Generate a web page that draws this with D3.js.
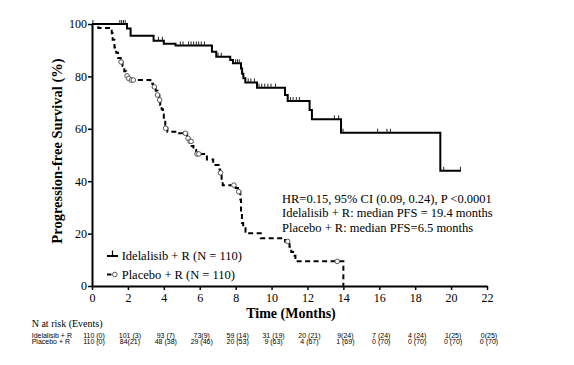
<!DOCTYPE html>
<html><head><meta charset="utf-8">
<script src="https://cdn.jsdelivr.net/npm/d3@7"></script>
<style>body{margin:0;background:#fff;} svg{display:block;}</style>
</head><body>
<svg id="c" width="574" height="365"></svg>
<script>
// ---- data ----
const xTicks = [0,2,4,6,8,10,12,14,16,18,20,22];
const yTicks = [0,20,40,60,80,100];

// Idelalisib + R : step times (months) and survival (%)
const idelTimes = [0, 1.95, 2.15, 3.43, 4.0, 4.65, 6.68, 6.92, 7.7, 7.85, 8.3, 8.36, 8.43, 8.54, 9.19, 10.75, 10.9, 12.12, 12.25, 13.87, 19.4];
const idelSurv  = [100, 98.3, 95.5, 93.6, 92.5, 91.8, 89.4, 87.5, 86.3, 85.0, 83.0, 81.0, 79.3, 77.7, 75.7, 72.9, 70.6, 67.2, 63.6, 58.5, 44.0];
const idelEnd = 20.55;
const idelCensor = [0.05, 1.55, 1.65, 1.75, 1.85, 3.7, 3.92, 4.92, 5.07, 5.38, 5.52, 5.66, 5.81, 5.94, 6.09, 6.26, 7.02, 7.2, 8.0, 8.1, 8.2, 8.7, 8.85, 9.05, 9.3, 9.45, 9.62, 9.8, 9.97, 10.22, 11.05, 11.2, 11.38, 11.55, 13.5, 13.74, 13.98, 15.91, 16.43, 16.62, 19.59, 20.52];

// Placebo + R
const placTimes = [0, 0.35, 1.1, 1.15, 1.25, 1.35, 1.45, 1.6, 1.7, 1.8, 1.9, 2.0, 2.1, 3.25, 3.4, 3.55, 3.65, 3.75, 3.8, 3.88, 3.95, 4.0, 4.08, 4.2, 4.8, 5.3, 5.45, 5.55, 5.65, 5.8, 6.4, 6.75, 7.05, 7.14, 7.22, 7.28, 8.0, 8.13, 8.26, 8.3, 8.35, 8.42, 8.55, 8.65, 9.4, 10.75, 11.0, 11.1, 11.2, 11.33, 14.0];
const placSurv  = [100, 98.5, 96.5, 94, 91, 89, 87, 85.5, 84, 82, 80.2, 79.2, 78.6, 77.2, 76.0, 74.5, 72.9, 71.0, 69.1, 67.5, 65.5, 62.7, 60.2, 58.9, 58.3, 56.4, 55.2, 53.4, 51.9, 50.4, 48.3, 46.2, 44.5, 43.2, 40.5, 38.5, 37.4, 36.0, 33, 28, 24, 22, 20.7, 20.1, 18.2, 17.0, 15.0, 13.0, 11.5, 9.4, 0];
const placCensor = [1.62, 1.95, 2.05, 2.2, 2.3, 3.47, 3.65, 3.77, 4.1, 5.2, 5.35, 5.47, 5.52, 5.85, 5.95, 7.16, 7.9, 8.17, 10.9, 13.66];

// Number at risk (events)
const riskTimes = [0,2,4,6,8,10,12,14,16,18,20,22];
const riskIdel = ["110 (0)","101 (3)","93 (7)","73(9)","59 (14)","31 (19)","20 (21)","9(24)","7 (24)","4 (24)","1(25)","0(25)"];
const riskPlac = ["110 (0)","84(21)","48 (38)","29 (46)","20 (53)","9 (63)","4 (67)","1 (69)","0 (70)","0 (70)","0 (70)","0 (70)"];
const riskRowLabels = ["Idelalisib + R","Placebo + R"];
const riskTitle = "N at risk (Events)";

const legendLabels = ["Idelalisib + R (N = 110)", "Placebo + R (N = 110)"];
const annotationLines = ["HR=0.15, 95% CI (0.09, 0.24), P <0.0001",
  "Idelalisib + R: median PFS = 19.4 months",
  "Placebo + R: median PFS=6.5 months"];
const xTitle = "Time (Months)";
const yTitle = "Progression-free Survival (%)";

// ---- drawing ----
const svg = d3.select("#c");
const serif = "'Liberation Serif','Times New Roman',serif";
const sans = "'Liberation Sans',Arial,sans-serif";

const x = d3.scaleLinear().domain([0,22]).range([92,487]);
const y = d3.scaleLinear().domain([0,100]).range([286,24]);

function stepVal(times, surv, t){
  const i = d3.bisectRight(times, t) - 1;
  return surv[Math.max(0,i)];
}

// axes
const xAxis = svg.append("g").attr("transform","translate(0,286)")
  .call(d3.axisBottom(x).tickValues(xTicks).tickSize(4).tickSizeOuter(0).tickPadding(3));
const yAxis = svg.append("g").attr("transform","translate(92,0)")
  .call(d3.axisLeft(y).tickValues(yTicks).tickSize(4).tickSizeOuter(0).tickPadding(1));
[xAxis,yAxis].forEach(a=>{
  a.select(".domain").attr("stroke","#000").attr("stroke-width",2);
  a.selectAll(".tick line").attr("stroke","#000").attr("stroke-width",1.5);
  a.selectAll(".tick text").attr("fill","#000").style("font-family",serif).style("font-size","12px");
});

// Idelalisib curve
const line = d3.line().x(d=>x(d[0])).y(d=>y(d[1])).curve(d3.curveStepAfter);
const idelPts = idelTimes.map((t,i)=>[t, idelSurv[i]]);
idelPts.push([idelEnd, idelSurv[idelSurv.length-1]]);
svg.append("path").attr("d", line(idelPts)).attr("fill","none")
  .attr("stroke","#000").attr("stroke-width",2);
svg.append("g").selectAll("line").data(idelCensor).join("line")
  .attr("x1",d=>x(d)).attr("x2",d=>x(d))
  .attr("y1",d=>y(stepVal(idelTimes,idelSurv,d)))
  .attr("y2",d=>y(stepVal(idelTimes,idelSurv,d))-4)
  .attr("stroke","#222").attr("stroke-width",1);

// Placebo curve
const placPts = placTimes.map((t,i)=>[t, placSurv[i]]);
svg.append("path").attr("d", line(placPts)).attr("fill","none")
  .attr("stroke","#000").attr("stroke-width",2).attr("stroke-dasharray","5,3.5");
svg.append("g").selectAll("circle").data(placCensor).join("circle")
  .attr("cx",d=>x(d)).attr("cy",d=>y(stepVal(placTimes,placSurv,d)))
  .attr("r",2.3).attr("fill","#fff").attr("stroke","#555").attr("stroke-width",1);

// Axis titles
svg.append("text").attr("x",291).attr("y",318).attr("text-anchor","middle")
  .style("font-family",serif).style("font-size","14px").style("font-weight","bold").text(xTitle);
svg.append("text").attr("transform","translate(62,151) rotate(-90)").attr("text-anchor","middle")
  .style("font-family",serif).style("font-size","14.5px").style("font-weight","bold").text(yTitle);

// Annotation
svg.append("g").selectAll("text").data(annotationLines).join("text")
  .attr("x",282).attr("y",(d,i)=>202.5+i*14.6)
  .style("font-family",serif).style("font-size","12.5px").text(d=>d);

// Legend
const lg = svg.append("g");
lg.append("line").attr("x1",107).attr("x2",118).attr("y1",256).attr("y2",256).attr("stroke","#000").attr("stroke-width",2);
lg.append("line").attr("x1",112.5).attr("x2",112.5).attr("y1",256).attr("y2",250.5).attr("stroke","#000").attr("stroke-width",1.2);
lg.append("line").attr("x1",107).attr("x2",111.5).attr("y1",274.5).attr("y2",274.5).attr("stroke","#000").attr("stroke-width",2);
lg.append("circle").attr("cx",114.8).attr("cy",274.5).attr("r",2.3).attr("fill","#fff").attr("stroke","#555").attr("stroke-width",1);
lg.selectAll("text").data(legendLabels).join("text")
  .attr("x",121.7).attr("y",(d,i)=>259.5+i*19)
  .style("font-family",serif).style("font-size","12.5px").text(d=>d);

// Risk table
svg.append("text").attr("x",31.7).attr("y",326.5)
  .style("font-family",serif).style("font-size","10px").text(riskTitle);
const rowY = [338, 344];
[riskIdel, riskPlac].forEach((row,ri)=>{
  svg.append("text").attr("x",31.7).attr("y",rowY[ri])
    .style("font-family",sans).style("font-size","7px").text(riskRowLabels[ri]);
  svg.append("g").selectAll("text").data(row).join("text")
    .attr("x",(d,i)=>x(riskTimes[i])+2).attr("y",rowY[ri]).attr("text-anchor","middle")
    .style("font-family",sans).style("font-size","7px").text(d=>d);
});
</script>
</body></html>
